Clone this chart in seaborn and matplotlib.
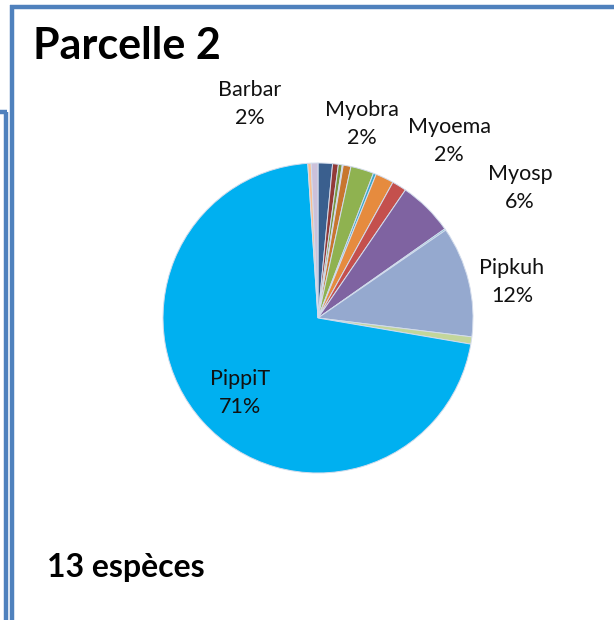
import matplotlib
matplotlib.use("Agg")
import matplotlib.pyplot as plt
import seaborn as sns

# slices clockwise from 12 o'clock (share of contacts, %)
species = ["Barbar", "Eptser", "Myoalc", "Myobec", "Myobly", "Myobra", "Myodau",
           "Myoema", "Myomys", "Myosp", "Nyclei", "Pipkuh", "Pipnat", "PippiT",
           "Plesp", "Rhifer"]
shares = [1.5, 0.6, 0.4, 0.1, 0.8, 2.4, 0.3, 1.9, 1.5, 5.7, 0.15, 11.5, 0.75, 71.0,
          0.35, 0.7]
slice_colors = ["#3A5F8E", "#923A38", "#7A963E", "#B8A9CC", "#C8762E", "#8FB250",
                "#3AA8C8", "#E68B3E", "#C4504D", "#7F63A1", "#4BACC6", "#95A9CF",
                "#C3D69B", "#00B0F0", "#FAC090", "#CCC1DA"]
shown_labels = ["Barbar", "Myobra", "Myoema", "Myosp", "Pipkuh", "PippiT"]
label_pct = ["2%", "2%", "2%", "6%", "12%", "71%"]

sns.set_theme(style="white")
plt.rcParams["font.family"] = ["Lato", "DejaVu Sans"]

W, H = 614, 620
fig = plt.figure(figsize=(W / 100, H / 100), dpi=100)
ax = fig.add_axes([0, 0, 1, 1])

pal = sns.color_palette(slice_colors)
ax.pie(shares, colors=pal, startangle=90, counterclock=False,
       center=(318, H - 318), radius=155, frame=False,
       wedgeprops=dict(edgecolor="#D3DCEC", linewidth=0.7))
ax.set_xlim(0, W)
ax.set_ylim(0, H)
ax.axis("off")

# data labels (placed like Excel's best fit)
label_pos = {"Barbar": (250, 104), "Myobra": (362, 124), "Myoema": (449, 141),
             "Myosp": (520, 188), "Pipkuh": (512, 282), "PippiT": (240, 393)}
for name, pct in zip(shown_labels, label_pct):
    x, y = label_pos[name]
    ax.text(x, H - y, f"{name}\n{pct}", ha="center", va="center",
            fontsize=15.5, linespacing=1.55, color="#111111")

ax.text(33, H - 46, "Parcelle 2", fontsize=31, fontweight="bold",
        ha="left", va="center", color="black")
ax.text(47, H - 567, "13 espèces", fontsize=23, fontweight="bold",
        ha="left", va="center", color="black")

# frame lines
frame_kw = dict(color="#4F81BD", linewidth=3.2, clip_on=False, solid_capstyle="butt")
ax.plot([10, W], [H - 7, H - 7], **frame_kw)
ax.plot([12, 12], [H - 5, 0], **frame_kw)
ax.plot([0, 7], [H - 112, H - 112], **frame_kw)
ax.plot([5.5, 5.5], [H - 112, 0], **frame_kw)

fig.savefig("out.png", dpi=100)
